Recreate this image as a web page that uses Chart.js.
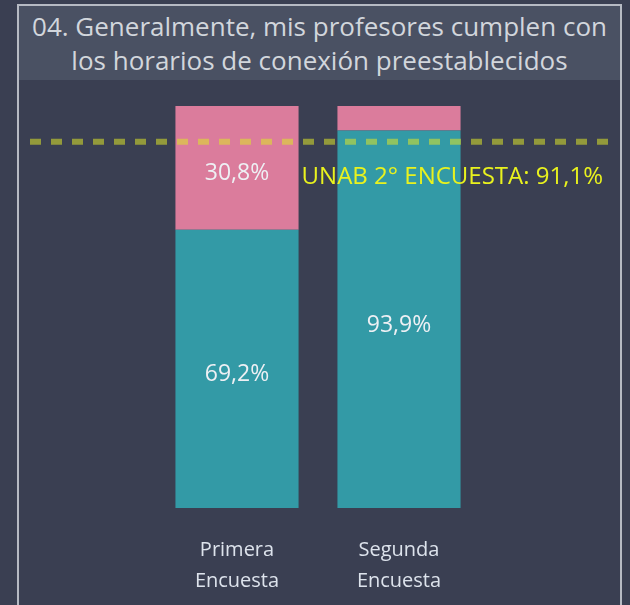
<!DOCTYPE html>
<html>
<head>
<meta charset="utf-8">
<script src="https://cdn.jsdelivr.net/npm/chart.js@4"></script>
<style>
  html, body { margin: 0; padding: 0; background: #3a3f52; width: 630px; height: 605px; overflow: hidden; }
  #chart { position: absolute; left: 0; top: 0; }
  #frame {
    position: absolute; left: 17px; top: 4px; width: 601px; height: 610px;
    border: 2px solid #b6bac3; border-bottom: none; z-index: 2;
  }
  #title {
    background: #4a5163; height: 71px; color: #d2d6dc;
    font-family: "Open Sans", sans-serif; font-size: 26px; line-height: 34px;
    text-align: center; padding-top: 3px; white-space: nowrap;
  }
</style>
</head>
<body>
<canvas id="chart" width="630" height="605"></canvas>
<div id="frame">
  <div id="title">04. Generalmente, mis profesores cumplen con<br>los horarios de conexión preestablecidos</div>
</div>
<script>
const categories = [['Primera', 'Encuesta'], ['Segunda', 'Encuesta']];
const siCumplen = [69.2, 93.9];
const noCumplen = [30.8, 6.1];
const referencia = 91.1;
const referenciaLabel = 'UNAB 2° ENCUESTA: 91,1%';

// etiquetas de porcentaje dentro de las barras
const valueLabels = {
  id: 'valueLabels',
  afterDatasetsDraw(chart) {
    const ctx = chart.ctx;
    ctx.save();
    ctx.font = '23px "Open Sans", sans-serif';
    ctx.fillStyle = '#eef0f4';
    ctx.textAlign = 'center';
    ctx.textBaseline = 'middle';
    chart.data.datasets.forEach((ds, i) => {
      chart.getDatasetMeta(i).data.forEach((bar, j) => {
        const v = ds.data[j];
        if (v < 10) return;
        const y = (bar.y + bar.base) / 2 + 6;
        ctx.fillText(v.toFixed(1).replace('.', ',') + '%', bar.x, y);
      });
    });
    ctx.restore();
  }
};

// linea de referencia punteada
const refLine = {
  id: 'refLine',
  afterDatasetsDraw(chart) {
    const ctx = chart.ctx;
    const y = chart.scales.y.getPixelForValue(referencia);
    ctx.save();
    ctx.strokeStyle = 'rgba(220,230,40,0.55)';
    ctx.lineWidth = 6;
    ctx.setLineDash([11, 10]);
    ctx.beginPath();
    ctx.moveTo(30, y);
    ctx.lineTo(610, y);
    ctx.stroke();
    ctx.setLineDash([]);
    ctx.font = '24px "Open Sans", sans-serif';
    ctx.fillStyle = '#e9f21e';
    ctx.textAlign = 'right';
    ctx.textBaseline = 'middle';
    ctx.fillText(referenciaLabel, 603, y + 35);
    ctx.restore();
  }
};

new Chart(document.getElementById('chart').getContext('2d'), {
  type: 'bar',
  data: {
    labels: categories,
    datasets: [
      { label: 'Sí', data: siCumplen, backgroundColor: '#339aa6', barPercentage: 0.76, categoryPercentage: 1 },
      { label: 'No', data: noCumplen, backgroundColor: '#db7c9c', barPercentage: 0.76, categoryPercentage: 1 }
    ]
  },
  options: {
    responsive: false,
    animation: false,
    layout: { padding: { left: 156, right: 150, top: 106, bottom: 0 } },
    plugins: { legend: { display: false }, tooltip: { enabled: false } },
    scales: {
      x: {
        stacked: true,
        grid: { display: false, drawTicks: false },
        border: { display: false },
        ticks: {
          color: '#dde3ec',
          font: { family: '"Open Sans", sans-serif', size: 20, lineHeight: 1.55 },
          padding: 27
        },
        afterFit(scale) { scale.height = 97; }
      },
      y: { stacked: true, min: 0, max: 100, display: false }
    }
  },
  plugins: [valueLabels, refLine]
});
</script>
</body>
</html>
